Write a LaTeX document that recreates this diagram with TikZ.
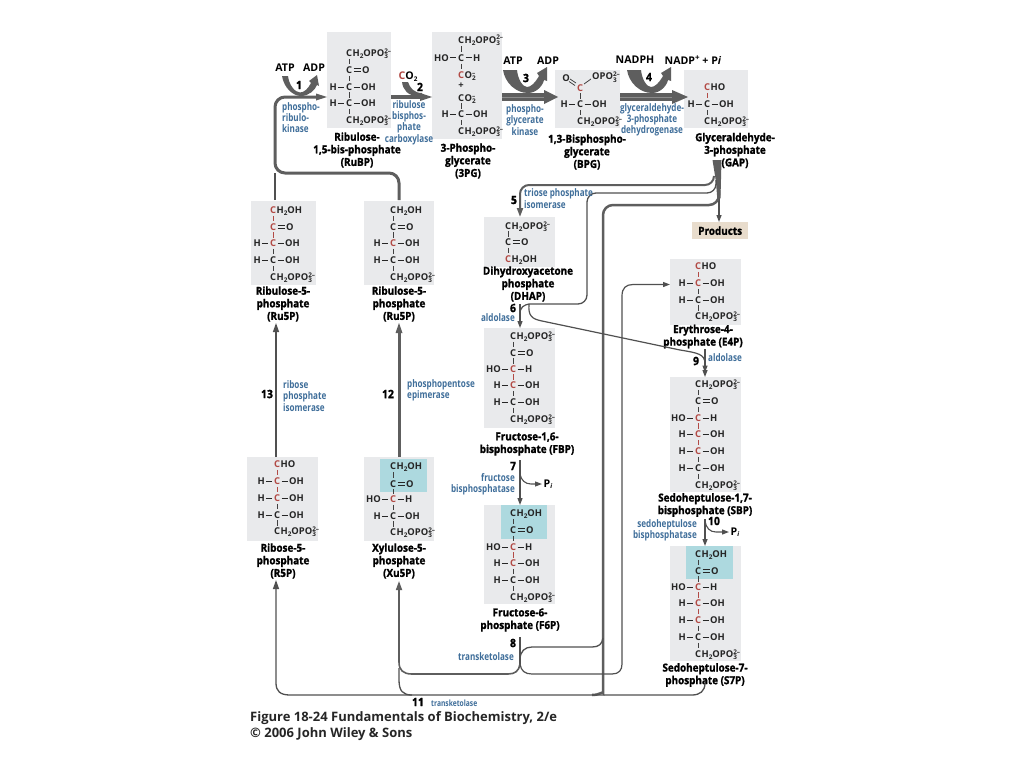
\documentclass[tikz,border=0pt]{standalone}
\usepackage{fontspec}
\setmainfont{Open Sans}
\newfontfamily\namefont[FakeStretch=0.9,FakeBold=1.4]{Open Sans}
\newfontfamily\enzfont[FakeStretch=0.78]{Open Sans}
\newfontfamily\atomfont{Open Sans}
\usetikzlibrary{arrows.meta,calc}
\definecolor{boxgray}{HTML}{E9EAEC}
\definecolor{tealbox}{HTML}{ADD9DF}
\definecolor{tanbox}{HTML}{E8DCCC}
\definecolor{enzblue}{HTML}{3F6E9A}
\definecolor{redc}{HTML}{B24A45}
\definecolor{linec}{HTML}{505050}
\definecolor{thickc}{HTML}{5E5E5E}
\newcount\nc
\newcommand\sm[1]{{\fontsize{6.4}{6}\selectfont #1}}
\newcommand\OPt{OPO\rlap{\raisebox{-2.2pt}{\sm{3}}}\raisebox{3.4pt}{\sm{2–}}}
\newcommand\CHt{H\raisebox{-2pt}{\sm{2}}\OPt}
\newcommand\CHo{H\raisebox{-2pt}{\sm{2}}OH}
\newcommand\COt{O\rlap{\raisebox{-2.2pt}{\sm{2}}}\raisebox{3.4pt}{\sm{–}}}
\newcommand\hb{\kern1pt\rule[3.1pt]{6.5pt}{0.8pt}\kern1pt}
\newcommand\db{\kern1pt\rlap{\rule[4.5pt]{7.5pt}{0.8pt}}\rule[1.9pt]{7.5pt}{0.8pt}\kern1pt}
\newcommand\rc{\textcolor{redc}{C}}
\tikzset{
  x=1pt,y=-1pt,
  molbox/.style={fill=boxgray,draw=none,inner sep=0pt,anchor=north west},
  hibox/.style={fill=tealbox,draw=none,inner sep=0pt,anchor=north west},
  prodbox/.style={fill=tanbox,draw=none,inner sep=0pt,anchor=north west,font=\namefont\fontsize{11}{11}\selectfont\bfseries,text=black},
  atomt/.style={inner sep=0pt,font=\atomfont\fontsize{9.4}{9}\selectfont\bfseries,text=black!85},
  molname/.style={inner sep=0pt,align=center,font=\namefont\fontsize{11}{12.6}\selectfont\bfseries,text=black},
  enz/.style={inner sep=0pt,font=\enzfont\fontsize{10.4}{11.2}\selectfont\bfseries,text=enzblue},
  stepno/.style={inner sep=0pt,font=\namefont\fontsize{11.5}{12}\selectfont\bfseries,text=black},
  cof/.style={inner sep=0pt,font=\atomfont\fontsize{10.6}{11}\selectfont\bfseries,text=black},
  caption/.style={inner sep=0pt,anchor=west,font=\atomfont\fontsize{13}{15}\selectfont\bfseries,text=black!85},
  bondv/.style={draw=black!75,line width=0.8pt},
  bondr/.style={draw=redc,line width=0.8pt},
  thin conn/.style={draw=linec,line width=1.2pt,rounded corners=8pt},
  tip/.style={-{Triangle[length=9pt,width=6pt]}},
  smalltip/.style={-{Triangle[length=7pt,width=5pt]}},
}
\newcommand\arow[5]{\global\advance\nc by 1
  \node[atomt,anchor=base east] (al\the\nc) at ({#1-3.4},{#2+3.4}) {#3};
  \node[atomt,anchor=base] (am\the\nc) at (#1,{#2+3.4}) {#4};
  \node[atomt,anchor=base west] (ar\the\nc) at ({#1+3.4},{#2+3.4}) {#5};}
\newcommand\vb[3][bondv]{\draw[#1] (#2,{#3-2.6}) -- (#2,{#3+2.6});}
\begin{document}
\begin{tikzpicture}
\useasboundingbox (0,0) rectangle (1024,768);
\fill[white] (0,0) rectangle (1024,768);
% ---- boxes
\node[molbox,minimum width=64pt,minimum height=96pt] (rubp) at (327,32) {};
\node[molbox,minimum width=70pt,minimum height=107pt] (pg) at (432,32) {};
\node[molbox,minimum width=65pt,minimum height=58pt] (bpg) at (555,70) {};
\node[molbox,minimum width=64pt,minimum height=58pt] (gap) at (684,70) {};
\node[molbox,minimum width=65pt,minimum height=84pt] (rua) at (251,201) {};
\node[molbox,minimum width=70pt,minimum height=84pt] (rub) at (364,201) {};
\node[molbox,minimum width=71pt,minimum height=50pt] (dhap) at (484,217) {};
\node[molbox,minimum width=71pt,minimum height=100pt] (fbp) at (484,328) {};
\node[molbox,minimum width=71pt,minimum height=99pt] (ffp) at (484,505) {};
\node[hibox,minimum width=46pt,minimum height=34pt] (ffph) at (501,505) {};
\node[molbox,minimum width=71pt,minimum height=66pt] (efp) at (670,259) {};
\node[molbox,minimum width=71pt,minimum height=115pt] (sbp) at (670,377) {};
\node[molbox,minimum width=71pt,minimum height=115pt] (ssp) at (670,546) {};
\node[hibox,minimum width=47pt,minimum height=33pt] (ssph) at (686,546) {};
\node[molbox,minimum width=71pt,minimum height=84pt] (rfp) at (247,457) {};
\node[molbox,minimum width=70pt,minimum height=84pt] (xup) at (364,457) {};
\node[hibox,minimum width=47pt,minimum height=33pt] (xuph) at (380,459) {};
\node[prodbox,minimum width=56pt,minimum height=17pt] (prod) at (692,222) {Products};
% ---- RuBP
\arow{349}{53}{}{C}{\CHt}\arow{349}{70}{}{C}{\db O}\arow{349}{87}{H\hb}{C}{\hb OH}\arow{349}{103}{H\hb}{C}{\hb OH}\arow{349}{120}{}{C}{\CHt}
\foreach \y in {61.5,78.5,95,111.5}{\vb{349}{\y}}
% ---- 3PG
\arow{461}{40}{}{C}{\CHt}\arow{461}{58}{HO\hb}{C}{\hb H}\arow{461}{75}{}{\rc}{\COt}\arow{461}{85}{}{+}{}\arow{461}{98}{}{C}{\COt}\arow{461}{114}{H\hb}{C}{\hb OH}\arow{461}{131}{}{C}{\CHt}
\foreach \y in {49,66.5,106,122.5}{\vb{461}{\y}}
% ---- BPG
\node[atomt] (bo) at (566,78) {O};
\node[atomt,anchor=west] (bopo) at (592,77) {\OPt};
\arow{580}{88}{}{\rc}{}\arow{580}{104}{H\hb}{C}{\hb OH}\arow{580}{121}{}{C}{\CHt}
\draw[bondv] (570,79) -- (576,83); \draw[bondv] (569,81.5) -- (575,85.5); \draw[bondv] (584,84) -- (591,79);
\vb{580}{96}\vb{580}{112.5}
% ---- GAP
\arow{707}{87}{}{\rc}{HO}\arow{707}{104}{H\hb}{C}{\hb OH}\arow{707}{121}{}{C}{\CHt}
\vb[bondr]{707}{95.5}\vb{707}{112.5}
% ---- Ru5P a
\arow{273}{210}{}{\rc}{\CHo}\arow{273}{227}{}{\rc}{\db O}\arow{273}{243}{H\hb}{\rc}{\hb OH}\arow{273}{260}{H\hb}{C}{\hb OH}\arow{273}{277}{}{C}{\CHt}
\vb[bondr]{273}{218.5}\vb[bondr]{273}{235}\vb{273}{251.5}\vb{273}{268.5}
% ---- Ru5P b
\arow{393}{210}{}{C}{\CHo}\arow{393}{227}{}{C}{\db O}\arow{393}{243}{H\hb}{\rc}{\hb OH}\arow{393}{260}{H\hb}{C}{\hb OH}\arow{393}{277}{}{C}{\CHt}
\vb{393}{218.5}\vb{393}{235}\vb{393}{251.5}\vb{393}{268.5}
% ---- DHAP
\arow{508}{226}{}{C}{\CHt}\arow{508}{242}{}{C}{\db O}\arow{508}{259}{}{\rc}{\CHo}
\vb{508}{234}\vb{508}{250.5}
% ---- FBP
\arow{513}{336}{}{C}{\CHt}\arow{513}{353}{}{C}{\db O}\arow{513}{369}{HO\hb}{\rc}{\hb H}\arow{513}{385}{H\hb}{\rc}{\hb OH}\arow{513}{402}{H\hb}{C}{\hb OH}\arow{513}{419}{}{C}{\CHt}
\vb{513}{344.5}\vb{513}{361}\vb[bondr]{513}{377}\vb{513}{393.5}\vb{513}{410.5}
% ---- F6P
\arow{513}{513}{}{C}{\CHo}\arow{513}{530}{}{C}{\db O}\arow{513}{547}{HO\hb}{\rc}{\hb H}\arow{513}{563}{H\hb}{\rc}{\hb OH}\arow{513}{580}{H\hb}{C}{\hb OH}\arow{513}{597}{}{C}{\CHt}
\vb{513}{521.5}\vb{513}{538.5}\vb[bondr]{513}{555}\vb{513}{571.5}\vb{513}{588.5}
% ---- E4P
\arow{698}{266}{}{\rc}{HO}\arow{698}{283}{H\hb}{\rc}{\hb OH}\arow{698}{300}{H\hb}{C}{\hb OH}\arow{698}{316}{}{C}{\CHt}
\vb[bondr]{698}{274.5}\vb{698}{291.5}\vb{698}{308}
% ---- SBP
\arow{698}{384}{}{C}{\CHt}\arow{698}{401}{}{C}{\db O}\arow{698}{418}{HO\hb}{\rc}{\hb H}\arow{698}{434}{H\hb}{\rc}{\hb OH}\arow{698}{451}{H\hb}{\rc}{\hb OH}\arow{698}{468}{H\hb}{C}{\hb OH}\arow{698}{485}{}{C}{\CHt}
\vb{698}{392.5}\vb{698}{409.5}\vb[bondr]{698}{426}\vb[bondr]{698}{442.5}\vb{698}{459.5}\vb{698}{476.5}
% ---- S7P
\arow{698}{554}{}{C}{\CHo}\arow{698}{571}{}{C}{\db O}\arow{698}{587}{HO\hb}{\rc}{\hb H}\arow{698}{603}{H\hb}{\rc}{\hb OH}\arow{698}{620}{H\hb}{\rc}{\hb OH}\arow{698}{637}{H\hb}{C}{\hb OH}\arow{698}{654}{}{C}{\CHt}
\vb{698}{562.5}\vb{698}{579}\vb[bondr]{698}{595}\vb[bondr]{698}{611.5}\vb{698}{628.5}\vb{698}{645.5}
% ---- R5P
\arow{277}{464}{}{\rc}{HO}\arow{277}{481}{H\hb}{\rc}{\hb OH}\arow{277}{498}{H\hb}{\rc}{\hb OH}\arow{277}{515}{H\hb}{C}{\hb OH}\arow{277}{531}{}{C}{\CHt}
\vb[bondr]{277}{472.5}\vb[bondr]{277}{489.5}\vb{277}{506.5}\vb{277}{523}
% ---- Xu5P
\arow{393}{466}{}{C}{\CHo}\arow{393}{484}{}{C}{\db O}\arow{393}{499}{HO\hb}{\rc}{\hb H}\arow{393}{516}{H\hb}{C}{\hb OH}\arow{393}{532}{}{C}{\CHt}
\vb{393}{475}\vb{393}{491.5}\vb{393}{507.5}\vb{393}{524}
% ---- names
\node[molname] (nrubp) at (357,150) {Ribulose-\\1,5-bis-phosphate\\(RuBP)};
\node[molname] (npg) at (468,161) {3-Phospho-\\glycerate\\(3PG)};
\node[molname] (nbpg) at (587,152) {1,3-Bisphospho-\\glycerate\\(BPG)};
\node[molname] (ngap) at (735,150.5) {Glyceraldehyde-\\3-phosphate\\(GAP)};
\node[molname] (nrua) at (283,304) {Ribulose-5-\\phosphate\\(Ru5P)};
\node[molname] (nrub) at (399,304) {Ribulose-5-\\phosphate\\(Ru5P)};
\node[molname] (ndhap) at (528,284) {Dihydroxyacetone\\phosphate\\(DHAP)};
\node[molname] (nfbp) at (527,444) {Fructose-1,6-\\bisphosphate (FBP)};
\node[molname] (nffp) at (520,620) {Fructose-6-\\phosphate (F6P)};
\node[molname] (nefp) at (703,336.5) {Erythrose-4-\\phosphate (E4P)};
\node[molname] (nsbp) at (705,505) {Sedoheptulose-1,7-\\bisphosphate (SBP)};
\node[molname] (nssp) at (705,675) {Sedoheptulose-7-\\phosphate (S7P)};
\node[molname] (nrfp) at (283,561) {Ribose-5-\\phosphate\\(R5P)};
\node[molname] (nxup) at (399,561) {Xylulose-5-\\phosphate\\(Xu5P)};
% ---- junction coordinates
\coordinate (loopA) at (275,200);
\coordinate (loopB) at (399,200);
\coordinate (ruIn) at (327,97);
\coordinate (j11) at (276,580);
% ---- cyclic connectors
\draw[line width=1.4pt,draw=linec] (loopA) -- (275,173);
\draw[draw=thickc,line width=3pt,rounded corners=10pt] (loopB) |- (275,173) -- (275,97) -- (320,97);
\fill[thickc] (ruIn) -- (316,93.5) -- (316,100.5) -- cycle;
% step 2 arrow
\draw[draw=thickc,line width=4pt] (rubp.east |- 0,97) -- (424,97);
\fill[thickc] (pg.west |- 0,97) -- (420,93) -- (420,101) -- cycle;
% step 3
\draw[draw=thickc,line width=8pt] (pg.east |- 0,97) -- (546,97);
\draw[draw=black!45,line width=1pt] (pg.east |- 0,97) -- (546,97);
\fill[thickc] (bpg.west |- 0,97) ++(3,0) -- (544,90) -- (544,104) -- cycle;
% step 4
\draw[draw=thickc,line width=8pt] (bpg.east |- 0,97) -- (674,97);
\draw[draw=black!45,line width=1pt] (bpg.east |- 0,97) -- (674,97);
\fill[thickc] (gap.west |- 0,97) ++(4,0) -- (672,90) -- (672,104) -- cycle;
% cofactor arcs
\fill[thickc] (282,76) .. controls (284,88) and (293,96) .. (301,96) .. controls (309,96) and (315,90) .. (317,85) -- (319,86) -- (317,75) -- (309,81) -- (311,83) .. controls (308,89) and (304,92.5) .. (300,92.5) .. controls (295,92.5) and (289,85) .. (288,76) -- cycle;
\fill[thickc] (402,82) .. controls (403,90) and (408,96) .. (418,96) -- (422,96) -- (422,93) .. controls (414,93) and (410,88) .. (408,82) -- cycle;
\fill[thickc] (503,70) .. controls (505,83) and (516,93) .. (528,93) .. controls (537,93) and (543,85) .. (544,80) -- (547,81) -- (547,67) -- (537,73) -- (539,76) .. controls (535,83) and (531,87) .. (527,87) .. controls (523,87) and (518,80) .. (517,70) -- cycle;
\fill[thickc] (627,70) .. controls (629,83) and (640,93) .. (652,93) .. controls (661,93) and (667,85) .. (668,80) -- (671,81) -- (671,67) -- (661,73) -- (663,76) .. controls (659,83) and (655,87) .. (651,87) .. controls (647,87) and (642,80) .. (641,70) -- cycle;
% ---- GAP outflow
\fill[thickc] (712.5,160) -- (721.5,160) -- (720.5,198) -- (717.5,202) -- (716,182) -- cycle;
\draw[thin conn,smalltip] (719,190) -- (prod.north -| 719,0);
\draw[draw=thickc,line width=2pt,rounded corners=9pt,tip] (714,176) -- (714,185) -- (520,185) -- (dhap.north -| 520,0);
\draw[draw=linec,line width=1.3pt,rounded corners=9pt] (716,180) -- (716,193) -- (587,193) -- (587,304) -- (529,304);
\draw[draw=thickc,line width=2.5pt,rounded corners=10pt] (719,190) -- (719,205) -- (603,205) -- (603,683) .. controls (603,691) and (600,695) .. (592,695);
% step 6
\draw[thin conn,smalltip] (520,304) -- (fbp.north -| 520,0);
\draw[draw=linec,line width=1.2pt] (529,304) .. controls (524,305) and (520,307) .. (520,314);
\draw[draw=linec,line width=1.2pt,smalltip] (529,304) .. controls (528,316) and (532,319) .. (542,321) -- (680,350) .. controls (698,353) and (705,354) .. (705,364) -- (705,372.5);
\draw[thin conn,smalltip] (705,349) -- (sbp.north -| 705,0);
% step 7, 10
\draw[thin conn,smalltip] (520,460) -- (ffp.north -| 520,0);
\draw[draw=linec,line width=1.1pt,smalltip] (520,474) .. controls (521,480) and (525,484) .. (531,484) -- (542,484);
\draw[thin conn,smalltip] (705,519) -- (ssp.north -| 705,0);
\draw[draw=linec,line width=1.1pt,smalltip] (705,521) .. controls (706,528) and (710,532) .. (716,532) -- (729,532);
% step 8
\draw[draw=linec,line width=1.2pt] (520,637) -- (520,664);
\draw[draw=thickc,line width=1.6pt,tip] (520,664) .. controls (519,671) and (515,674) .. (508,674) -- (412,674) .. controls (403,674) and (399,670) .. (399,662) -- (399,581);
\draw[draw=linec,line width=1.2pt,smalltip] (520,664) .. controls (521,671) and (525,674) .. (532,674) -- (612,674) .. controls (619,674) and (622,670) .. (622,664) -- (622,296) .. controls (622,288) and (626,284.5) .. (633,284.5) -- (efp.west |- 0,284.5);
\draw[draw=linec,line width=1.3pt] (603,638) .. controls (602,644) and (599,647) .. (592,647) -- (532,647) .. controls (525,647) and (520,651) .. (520,660);
% bottom rail
\draw[draw=linec,line width=1.3pt,tip] (705,683) .. controls (705,691) and (700,695) .. (692,695) -- (290,695) .. controls (280,695) and (276,691) .. (276,683) -- (j11);
\draw[draw=linec,line width=1.3pt] (412,695) .. controls (403,695) and (399,691) .. (399,680) -- (399,668);
% R5P -> Ru5P etc
\draw[draw=linec,line width=1.3pt,tip] (rfp.north -| 276,0) -- (276,323);
\draw[draw=thickc,line width=3pt] (xup.north -| 399,0) -- (399,332);
\fill[thickc] (399,323) -- (395.5,333) -- (402.5,333) -- cycle;
% ---- cofactor labels
\node[cof] (atp1) at (285,68) {ATP};
\node[cof] (adp1) at (314,68) {ADP};
\node[cof] (co2) at (408,77) {\textcolor{redc}{C}O\raisebox{-1.8pt}{\sm{2}}};
\node[cof] (atp3) at (513,61) {ATP};
\node[cof] (adp3) at (548,61) {ADP};
\node[cof] (nadph) at (635,60) {NADPH};
\node[cof] (nadp) at (693,60) {NADP\raisebox{3.5pt}{\fontsize{8}{8}\selectfont +} + P\textit{i}};
\node[cof] (pia) at (548,484) {P\raisebox{-1.5pt}{\sm{\textit{i}}}};
\node[cof] (pib) at (735,532) {P\raisebox{-1.5pt}{\sm{\textit{i}}}};
% ---- step numbers
\node[stepno] (s1) at (299,85) {1};
\node[stepno] (s2) at (420,87) {2};
\node[stepno] (s3) at (526,78) {3};
\node[stepno] (s4) at (649,77) {4};
\node[stepno] (s5) at (514,200) {5};
\node[stepno] (s6) at (513,308) {6};
\node[stepno] (s7) at (513,466) {7};
\node[stepno] (s8) at (513,643) {8};
\node[stepno] (s9) at (696,361) {9};
\node[stepno] (s10) at (714,521) {10};
\node[stepno] (s11) at (418,702) {11};
\node[stepno] (s12) at (388,394) {12};
\node[stepno] (s13) at (267,394) {13};
% ---- enzymes
\node[enz,anchor=west,align=left] (e1) at (282,117.5) {phospho-\\ribulo-\\kinase};
\node[enz,align=center] (e2) at (409,122.5) {ribulose\\bisphos-\\phate\\carboxylase};
\node[enz,align=center] (e3) at (525,120) {phospho-\\glycerate\\kinase};
\node[enz,align=center] (e4) at (652,119.5) {glyceraldehyde-\\3-phosphate\\dehydrogenase};
\node[enz,anchor=west,align=left] (e5) at (524,198.5) {triose phosphate\\isomerase};
\node[enz,anchor=east] (e6) at (515,318) {aldolase};
\node[enz,anchor=east,align=right] (e7) at (515,484) {fructose\\bisphosphatase};
\node[enz,anchor=east] (e8) at (514,657) {transketolase};
\node[enz,anchor=west] (e9) at (708,358) {aldolase};
\node[enz,align=right,anchor=east] (e10) at (697,530.5) {sedoheptulose\\bisphosphatase};
\node[enz,anchor=west,font=\enzfont\fontsize{8.6}{9}\selectfont\bfseries] (e11) at (431,703) {transketolase};
\node[enz,anchor=west,align=left] (e12) at (407,390.5) {phosphopentose\\epimerase};
\node[enz,anchor=west,align=left] (e13) at (283,396) {ribose\\phosphate\\isomerase};
% ---- caption
\node[caption] (c1) at (250,718) {Figure 18-24 Fundamentals of Biochemistry, 2/e};
\node[caption] (c2) at (250,734) {© 2006 John Wiley \& Sons};
\end{tikzpicture}
\end{document}
